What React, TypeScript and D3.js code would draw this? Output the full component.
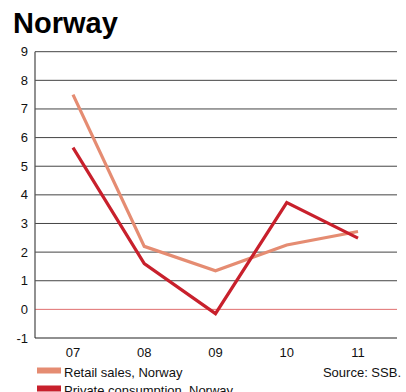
import React from "react";
import * as d3 from "d3";

const years = ["07", "08", "09", "10", "11"];
const retailSales = [7.5, 2.2, 1.35, 2.25, 2.72];
const privateConsumption = [5.65, 1.6, -0.15, 3.73, 2.49];
const yTicks = [-1, 0, 1, 2, 3, 4, 5, 6, 7, 8, 9];

const W = 406, H = 392;
const left = 35, right = 397, top = 51.7, bottom = 338;

export default function App() {
  const x = d3.scalePoint<string>().domain(years).range([73, 358]);
  const y = d3.scaleLinear().domain([-1, 9]).range([bottom, top]);
  const line = d3
    .line<number>()
    .x((_, i) => x(years[i]) as number)
    .y((d) => y(d));
  const font = "Liberation Sans, Arial, Helvetica, sans-serif";
  return (
    <svg
      width={W}
      height={H}
      style={{ position: "fixed", left: 0, top: 0, background: "#fff" }}
      fontFamily={font}
    >
      <text x={13} y={33} fontSize={29} fontWeight="bold" fill="#000">
        Norway
      </text>
      {yTicks.map((t) => (
        <g key={t}>
          {t !== 0 && t !== -1 && (
            <line x1={left} x2={right} y1={y(t)} y2={y(t)} stroke="#444" strokeWidth={1} />
          )}
          <text x={28} y={y(t) + 4.5} textAnchor="end" fontSize={13} fill="#111">
            {t}
          </text>
        </g>
      ))}
      <line x1={left} x2={right} y1={y(0)} y2={y(0)} stroke="#e07070" strokeWidth={1} />
      <line x1={left} x2={left} y1={top} y2={bottom} stroke="#555" strokeWidth={1.3} />
      <line x1={left} x2={right} y1={bottom} y2={bottom} stroke="#222" strokeWidth={1.2} />
      {years.map((yr) => (
        <text key={yr} x={x(yr)} y={356.5} textAnchor="middle" fontSize={13} fill="#111">
          {yr}
        </text>
      ))}
      <path d={line(retailSales) || ""} fill="none" stroke="#E58C72" strokeWidth={3.2} />
      <path d={line(privateConsumption) || ""} fill="none" stroke="#C8202C" strokeWidth={3.2} />
      <rect x={37} y={367.5} width={24} height={6} fill="#E58C72" />
      <text x={64} y={376.5} fontSize={13} fill="#111">
        Retail sales, Norway
      </text>
      <rect x={37} y={385.5} width={24} height={6} fill="#C8202C" />
      <text x={64} y={394.5} fontSize={13} fill="#111">
        Private consumption, Norway
      </text>
      <text x={401} y={376.5} textAnchor="end" fontSize={13} fill="#111">
        Source: SSB.
      </text>
    </svg>
  );
}
